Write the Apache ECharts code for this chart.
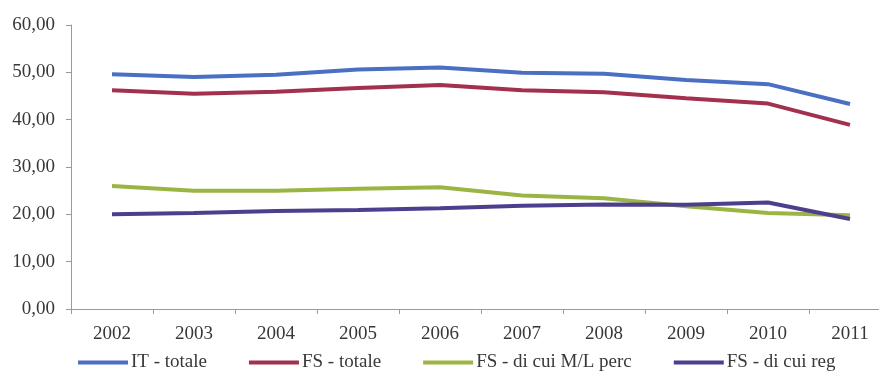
<!DOCTYPE html>
<html>
<head>
<meta charset="utf-8">
<script src="https://cdn.jsdelivr.net/npm/echarts@6/dist/echarts.min.js"></script>
<style>html,body{margin:0;padding:0;background:#fff}#c{width:879px;height:378px}</style>
</head>
<body>
<div id="c"></div>
<script>
const years = ['2002','2003','2004','2005','2006','2007','2008','2009','2010','2011'];
const itTotale = [49.6, 49.0, 49.5, 50.6, 51.0, 49.9, 49.7, 48.4, 47.5, 43.3];
const fsTotale = [46.2, 45.5, 45.9, 46.7, 47.3, 46.2, 45.8, 44.5, 43.4, 38.9];
const fsML = [26.0, 25.0, 25.0, 25.4, 25.7, 24.0, 23.4, 21.7, 20.3, 19.8];
const fsReg = [20.0, 20.3, 20.7, 20.9, 21.3, 21.8, 22.1, 22.0, 22.5, 19.0];
const seriesNames = ['IT - totale', 'FS - totale', 'FS - di cui M/L perc', 'FS - di cui reg'];
const colors = ['#4b6fc2', '#a3304c', '#9bb545', '#4e3e8e'];

const chart = echarts.init(document.getElementById('c'), null, {renderer: 'canvas'});
const font = 'Liberation Serif';
const values = [itTotale, fsTotale, fsML, fsReg];
chart.setOption({
  animation: false,
  backgroundColor: '#fff',
  color: colors,
  grid: {left: 71, top: 25, height: 284, width: 820, outerBoundsMode: 'none', containLabel: false},
  legend: {
    left: 78, top: 353, padding: 0,
    icon: 'rect', itemWidth: 50, itemHeight: 4, itemGap: 42,
    textStyle: {fontFamily: font, fontSize: 19, color: '#383838', padding: [0,0,0,-2]},
    data: seriesNames
  },
  xAxis: {
    type: 'category', data: years, boundaryGap: true,
    axisLine: {lineStyle: {color: '#9a9a9a', width: 1}},
    axisTick: {show: true, length: 5, lineStyle: {color: '#9a9a9a'}},
    axisLabel: {fontFamily: font, fontSize: 19, color: '#383838', margin: 16}
  },
  yAxis: {
    type: 'value', min: 0, max: 60, interval: 10,
    axisLine: {show: true, lineStyle: {color: '#9a9a9a', width: 1}},
    axisTick: {show: true, length: 5, lineStyle: {color: '#9a9a9a'}},
    splitLine: {show: false},
    axisLabel: {fontFamily: font, fontSize: 19, color: '#383838', margin: 16,
      formatter: v => v.toFixed(2).replace('.', ',')}
  },
  series: seriesNames.map((n, i) => ({
    name: n, type: 'line', data: values[i],
    symbol: 'none', lineStyle: {width: 4, color: colors[i]}, itemStyle: {color: colors[i]}
  }))
});
</script>
</body>
</html>
